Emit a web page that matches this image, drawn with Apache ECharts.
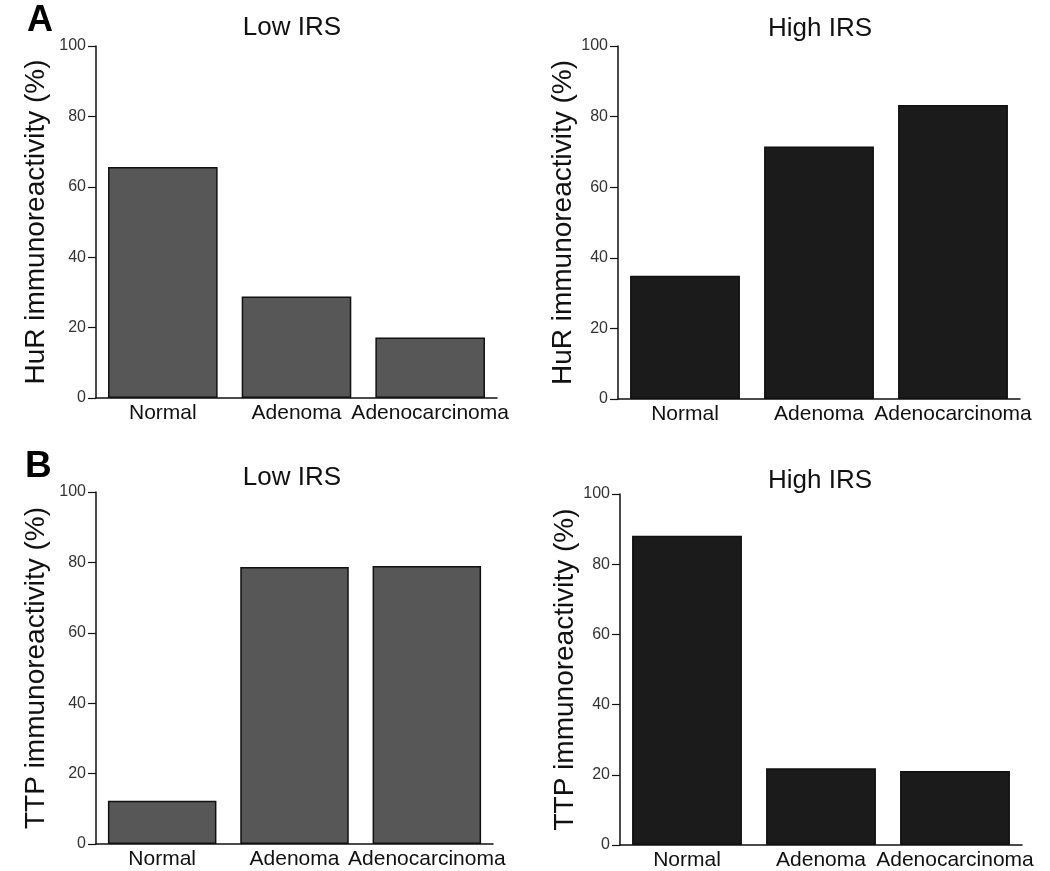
<!DOCTYPE html>
<html><head><meta charset="utf-8">
<script src="https://cdn.jsdelivr.net/npm/echarts@6/dist/echarts.min.js"></script>
<style>html,body{margin:0;padding:0;background:#fff}#c{width:1050px;height:871px}</style>
</head><body><div id="c"></div>
<script>
var categories = ['Normal', 'Adenoma', 'Adenocarcinoma'];
var hurLow = [65.6, 28.8, 17.2];
var hurHigh = [34.9, 71.5, 83.3];
var ttpLow = [12.3, 78.7, 79.0];
var ttpHigh = [88.1, 21.9, 21.1];
var yTicks = [0, 20, 40, 60, 80, 100];
var panelTitles = ['Low IRS', 'High IRS', 'Low IRS', 'High IRS'];
var yNames = ['HuR immunoreactivity (%)', 'HuR immunoreactivity (%)', 'TTP immunoreactivity (%)', 'TTP immunoreactivity (%)'];
var panelData = [hurLow, hurHigh, ttpLow, ttpHigh];
var panelLetters = ['A', 'B'];

var FONT = 'Liberation Sans, Arial, Helvetica, sans-serif';
var grids = [
  {left: 96, top: 46, width: 401, height: 352},
  {left: 618, top: 46, width: 402, height: 353},
  {left: 96, top: 492, width: 397, height: 352},
  {left: 620, top: 494, width: 402, height: 352}
];
var nameGaps = [46, 30, 46, 30];
var titlePos = [[287, 10], [815, 11], [287, 460], [815, 463]];
var lowColor = '#575757', highColor = '#1b1b1b';

var xAxes = [], yAxes = [], series = [], titles = [];
for (var i = 0; i < 4; i++) {
  xAxes.push({
    type: 'category', gridIndex: i, data: categories,
    axisLine: {lineStyle: {color: '#111', width: 1.5}},
    axisTick: {show: false},
    axisLabel: {color: '#111', fontSize: 21, fontFamily: FONT, margin: 5, interval: 0}
  });
  yAxes.push({
    type: 'value', gridIndex: i, min: yTicks[0], max: yTicks[yTicks.length - 1], interval: 20,
    name: yNames[i], nameLocation: 'middle', nameGap: nameGaps[i],
    nameTextStyle: {color: '#111', fontSize: 28, fontFamily: FONT},
    axisLine: {show: true, lineStyle: {color: '#111', width: 1.5}},
    axisTick: {show: true, length: 8, lineStyle: {color: '#111', width: 1.2}},
    axisLabel: {color: '#333', fontSize: 16, fontFamily: FONT, margin: 10},
    splitLine: {show: false}
  });
  series.push({
    type: 'bar', xAxisIndex: i, yAxisIndex: i, data: panelData[i],
    barCategoryGap: '18%',
    itemStyle: {color: (i % 2 === 0) ? lowColor : highColor, borderColor: '#111', borderWidth: 1.5},
    silent: true
  });
  titles.push({
    text: panelTitles[i], left: titlePos[i][0], top: titlePos[i][1], textAlign: 'center',
    textStyle: {fontSize: 26, fontWeight: 'normal', color: '#111', fontFamily: FONT}
  });
}
titles.push({text: panelLetters[0], left: 22, top: -2, textStyle: {fontSize: 36, fontWeight: 'bold', color: '#000', fontFamily: FONT}});
titles.push({text: panelLetters[1], left: 20, top: 443, textStyle: {fontSize: 37, fontWeight: 'bold', color: '#000', fontFamily: FONT}});

var chart = echarts.init(document.getElementById('c'), null, {renderer: 'canvas'});
chart.setOption({
  animation: false,
  backgroundColor: '#fff',
  title: titles,
  grid: grids,
  xAxis: xAxes,
  yAxis: yAxes,
  series: series
});
</script></body></html>
